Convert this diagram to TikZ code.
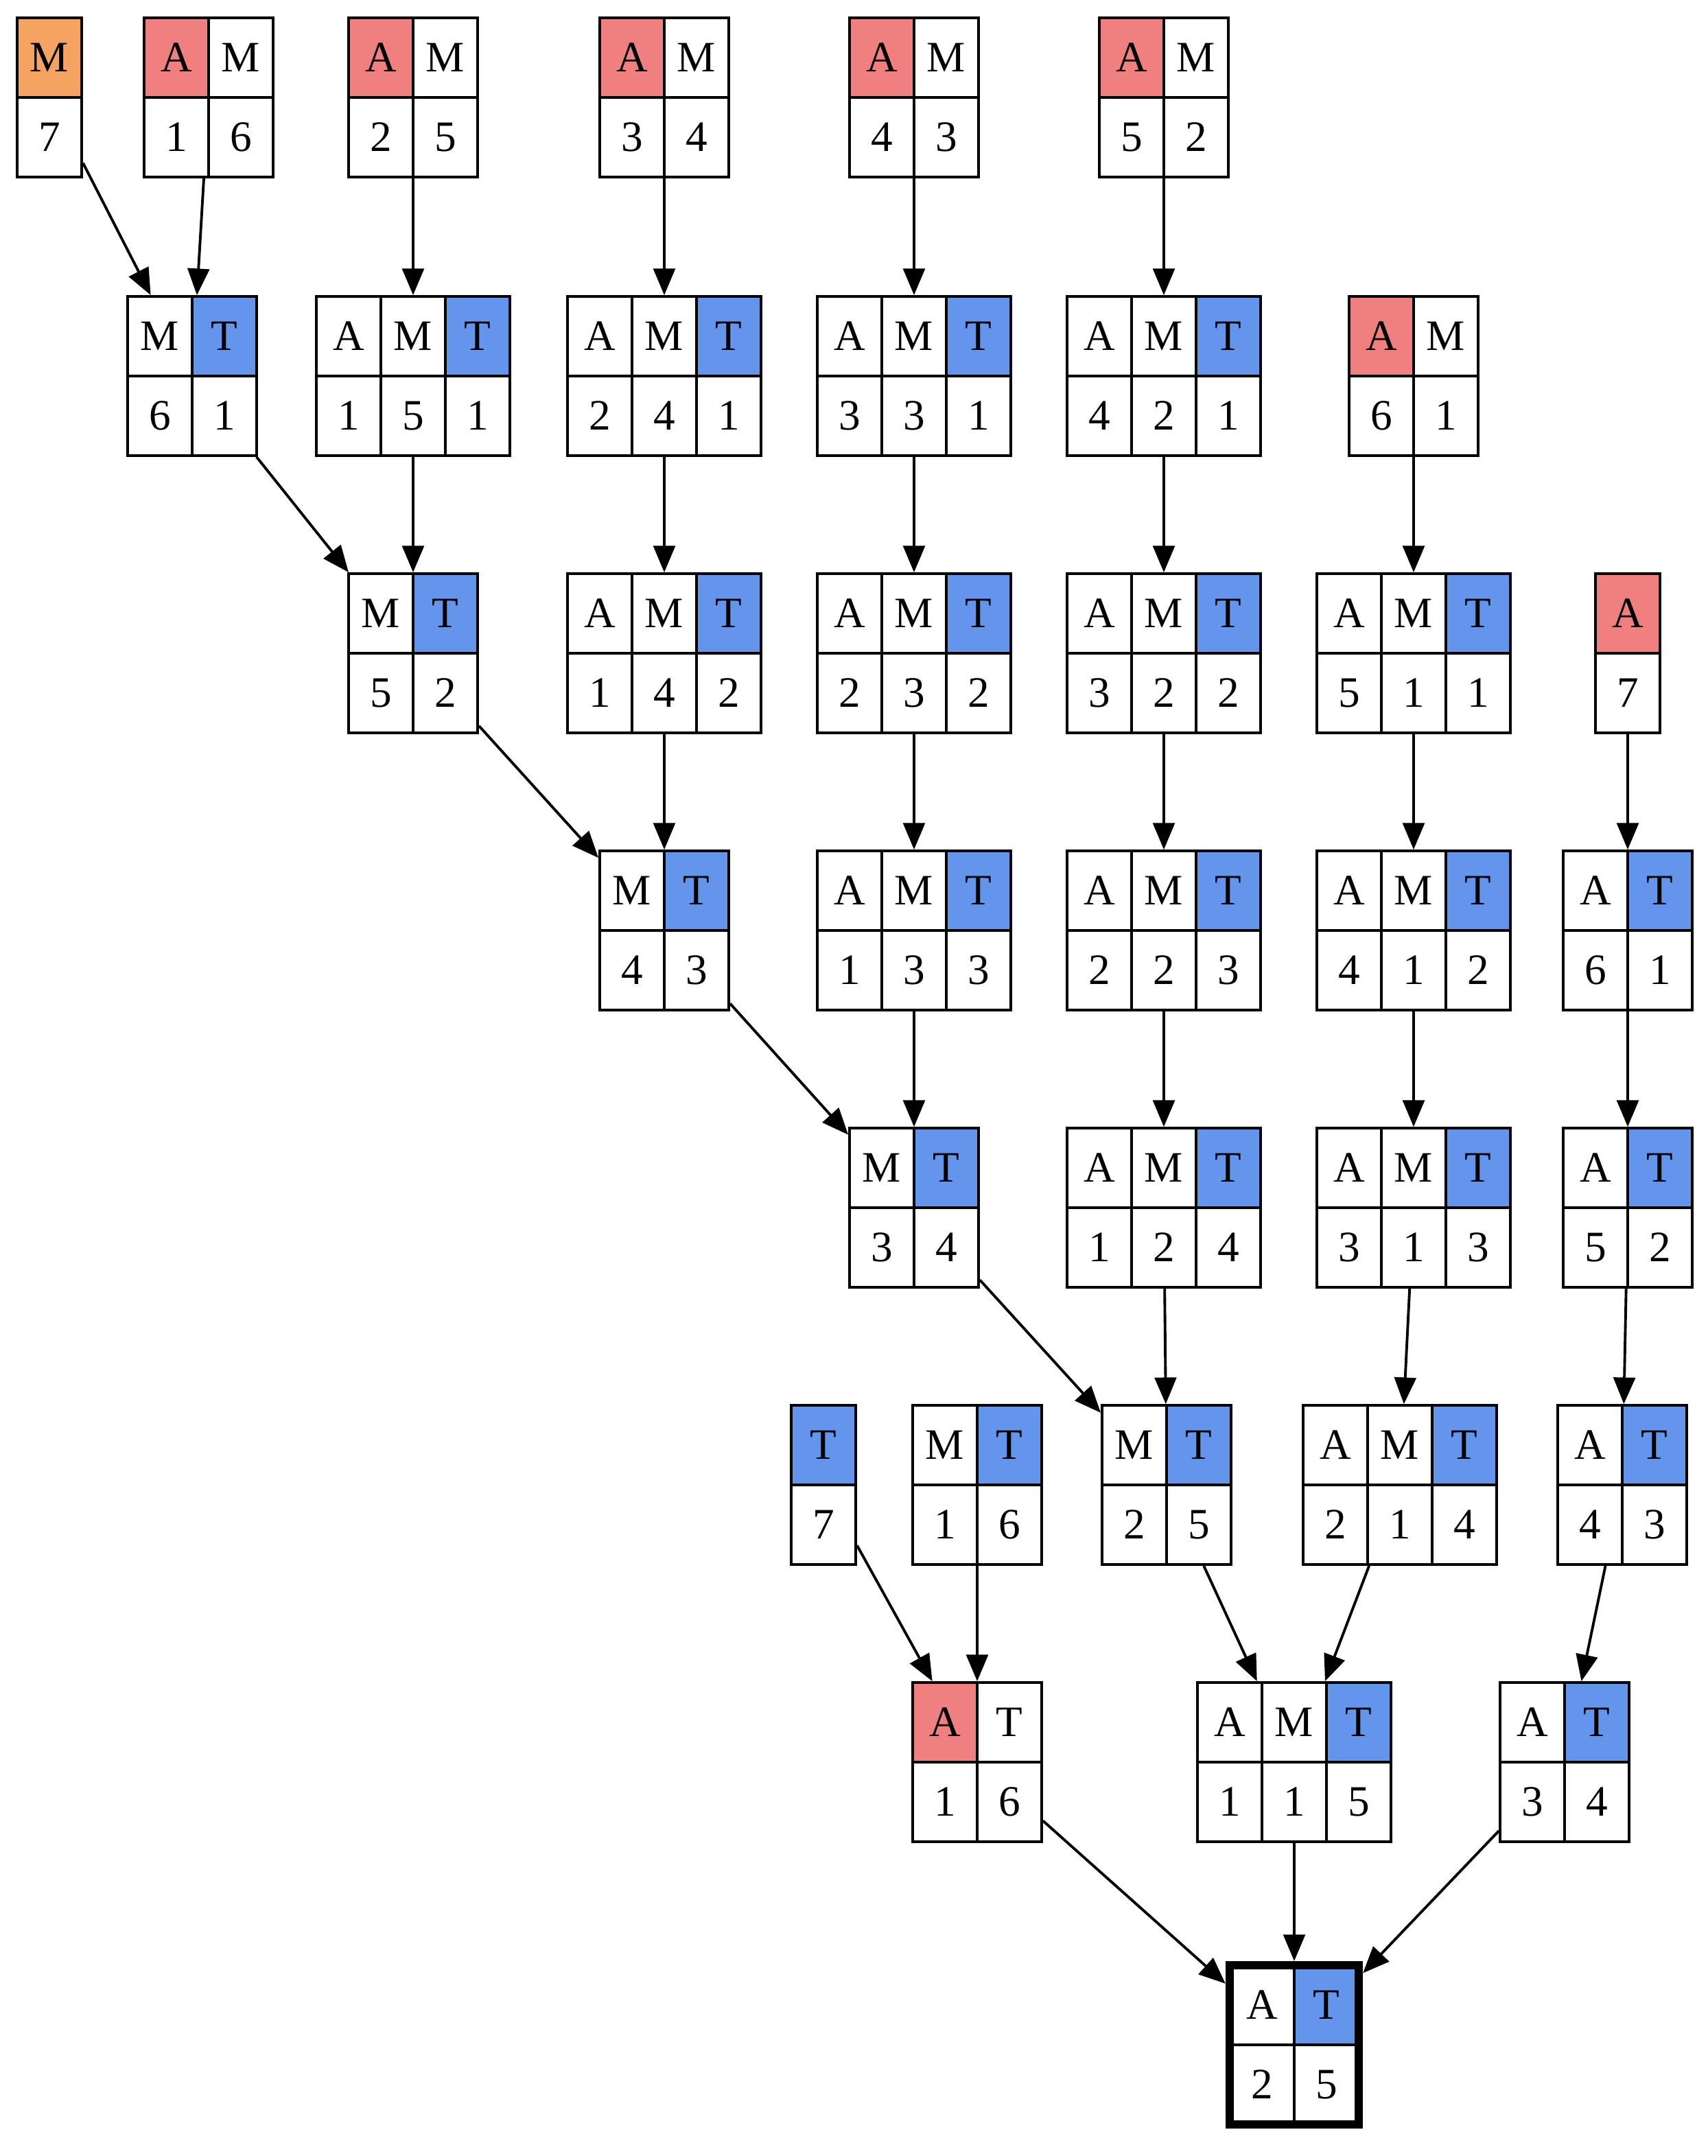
\documentclass[tikz,border=0pt]{standalone}
\usepackage{fontspec}
\setmainfont{Liberation Serif}
\usetikzlibrary{arrows.meta}
\definecolor{acol}{HTML}{F08080}
\definecolor{tcol}{HTML}{6495ED}
\definecolor{mcol}{HTML}{F4A460}
\tikzset{cell/.style={draw, line width=1.1pt, minimum width=0.94cm, minimum height=1.16cm,
    inner sep=0pt, font=\fontsize{18}{20}\selectfont},
  box/.style={draw, line width=1.1pt, inner sep=0pt, minimum height=2.32cm},
  final/.style={line width=3.5pt},
  edge/.style={-{Triangle[length=11pt,width=9pt]}, line width=1.1pt}}
% #1 extra style, #2 name, #3 x, #4 y, #5 columns, #6 cells letter/colour/number
\newcommand\rec[6][]{%
  \foreach \l/\c/\v [count=\i] in {#6} {
    \node[cell, fill=\c] at ({#3-#5*23.5+\i*47-23.5}, #4-29) {\l};
    \node[cell] at ({#3-#5*23.5+\i*47-23.5}, #4+29) {\v};
  }
  \node[box, minimum width=#5*0.94cm, #1] (#2) at (#3,#4) {};
}
\begin{document}
\begin{tikzpicture}[x={(0.02cm,0)}, y={(0,-0.02cm)}]
\useasboundingbox (0,0) rectangle (1244.5,1571);
%row 1
\rec{m7}{36}{71}{1}{M/mcol/7}
\rec{am16}{152}{71}{2}{A/acol/1, M/white/6}
\rec{am25}{301}{71}{2}{A/acol/2, M/white/5}
\rec{am34}{484}{71}{2}{A/acol/3, M/white/4}
\rec{am43}{666}{71}{2}{A/acol/4, M/white/3}
\rec{am52}{848}{71}{2}{A/acol/5, M/white/2}
%row 2
\rec{mt61}{140}{274}{2}{M/white/6, T/tcol/1}
\rec{amt151}{301}{274}{3}{A/white/1, M/white/5, T/tcol/1}
\rec{amt241}{484}{274}{3}{A/white/2, M/white/4, T/tcol/1}
\rec{amt331}{666}{274}{3}{A/white/3, M/white/3, T/tcol/1}
\rec{amt421}{848}{274}{3}{A/white/4, M/white/2, T/tcol/1}
\rec{am61}{1030}{274}{2}{A/acol/6, M/white/1}
%row 3
\rec{mt52}{301}{476}{2}{M/white/5, T/tcol/2}
\rec{amt142}{484}{476}{3}{A/white/1, M/white/4, T/tcol/2}
\rec{amt232}{666}{476}{3}{A/white/2, M/white/3, T/tcol/2}
\rec{amt322}{848}{476}{3}{A/white/3, M/white/2, T/tcol/2}
\rec{amt511}{1030}{476}{3}{A/white/5, M/white/1, T/tcol/1}
\rec{a7}{1186}{476}{1}{A/acol/7}
%row 4
\rec{mt43}{484}{678}{2}{M/white/4, T/tcol/3}
\rec{amt133}{666}{678}{3}{A/white/1, M/white/3, T/tcol/3}
\rec{amt223}{848}{678}{3}{A/white/2, M/white/2, T/tcol/3}
\rec{amt412}{1030}{678}{3}{A/white/4, M/white/1, T/tcol/2}
\rec{at61}{1186}{678}{2}{A/white/6, T/tcol/1}
%row 5
\rec{mt34}{666}{880}{2}{M/white/3, T/tcol/4}
\rec{amt124}{848}{880}{3}{A/white/1, M/white/2, T/tcol/4}
\rec{amt313}{1030}{880}{3}{A/white/3, M/white/1, T/tcol/3}
\rec{at52}{1186}{880}{2}{A/white/5, T/tcol/2}
%row 6
\rec{t7}{600}{1082}{1}{T/tcol/7}
\rec{mt16}{712}{1082}{2}{M/white/1, T/tcol/6}
\rec{mt25}{850}{1082}{2}{M/white/2, T/tcol/5}
\rec{amt214}{1020}{1082}{3}{A/white/2, M/white/1, T/tcol/4}
\rec{at43}{1182}{1082}{2}{A/white/4, T/tcol/3}
%row 7
\rec{at16}{712}{1284}{2}{A/acol/1, T/white/6}
\rec{amt115}{943}{1284}{3}{A/white/1, M/white/1, T/tcol/5}
\rec{at34}{1140}{1284}{2}{A/white/3, T/tcol/4}
%row 8
\rec[final]{at25}{943}{1490}{2}{A/white/2, T/tcol/5}
%edges
\foreach \s/\t in {m7/mt61, am16/mt61, am25/amt151, am34/amt241, am43/amt331, am52/amt421,
    am61/amt511, mt61/mt52, amt151/mt52, amt241/amt142, amt331/amt232, amt421/amt322,
    amt511/amt412, a7/at61, mt52/mt43, amt142/mt43, amt232/amt133, amt322/amt223,
    amt412/amt313, at61/at52, mt43/mt34, amt133/mt34, amt223/amt124, amt313/amt214,
    at52/at43, mt34/mt25, amt124/mt25, t7/at16, mt16/at16, mt25/amt115, amt214/amt115,
    at43/at34, at16/at25, amt115/at25, at34/at25}
  \draw[edge] (\s) -- (\t);
\end{tikzpicture}
\end{document}
